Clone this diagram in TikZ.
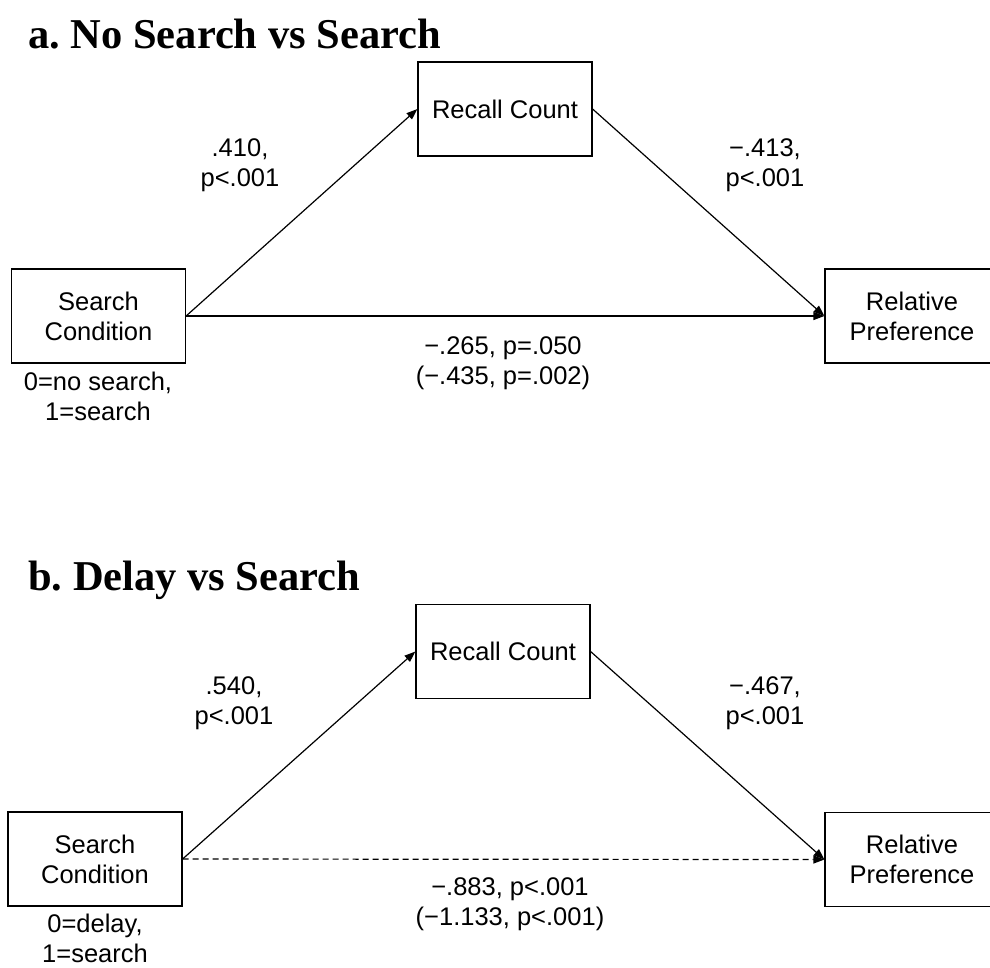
\documentclass[tikz,border=0pt]{standalone}
\usepackage{fontspec}
\setmainfont{Liberation Sans}
\newfontfamily\titlefont{Liberation Serif}
\usetikzlibrary{arrows.meta,positioning}
\frenchspacing
\tikzset{
  var/.style={draw, line width=1.2pt, minimum width=174pt, minimum height=94pt, align=center, font=\fontsize{25.5}{30}\selectfont},
  lab/.style={align=center, inner sep=0pt, font=\fontsize{25.5}{30}\selectfont},
  ttl/.style={anchor=base west, inner sep=0pt, font=\titlefont\bfseries\fontsize{42.5}{48}\selectfont},
  effect/.style={-{Triangle[length=11pt, width=8pt]}, line width=1.2pt},
  effdash/.style={effect, dash pattern=on 6pt off 4pt},
}

\begin{document}
\begin{tikzpicture}[x=1pt, y=-1pt]
  \clip (0,0) rectangle (990,967);
  % a. no search vs search
  \node[ttl] (ttla) at (28,48) {a. No Search vs Search};
  \node[var] (sca) at (98.5,316) {Search\\Condition};
  \node[var] (rca) at (505,109) {Recall Count};
  \node[var] (rpa) at (912,316) {Relative\\Preference};
  \draw[effect] (sca.east) -- (rca.west);
  \draw[effect] (rca.east) -- (rpa.west);
  \draw[effect] (sca.east) -- (rpa.west);
  \node[lab] (pa1) at (240,165) {.410,\\p<.001};
  \node[lab] (pa2) at (765,165) {−.413,\\p<.001};
  \node[lab] (pa3) at (503,363) {−.265, p=.050\\(−.435, p=.002)};
  \node[lab] (coda) at (98,396) {0=no search,\\1=search};
  % b. delay vs search
  \node[ttl] (ttlb) at (28,590) {b. Delay vs Search};
  \node[var] (scb) at (95,859) {Search\\Condition};
  \node[var] (rcb) at (503,651.5) {Recall Count};
  \node[var] (rpb) at (912,859.5) {Relative\\Preference};
  \draw[effect] (scb.east) -- (rcb.west);
  \draw[effect] (rcb.east) -- (rpb.west);
  \draw[effdash] (scb.east) -- (rpb.west);
  \node[lab] (pb1) at (234,703) {.540,\\p<.001};
  \node[lab] (pb2) at (765,703) {−.467,\\p<.001};
  \node[lab] (pb3) at (510,904) {−.883, p<.001\\(−1.133, p<.001)};
  \node[lab] (codb) at (95,938) {0=delay,\\1=search};
\end{tikzpicture}
\end{document}
